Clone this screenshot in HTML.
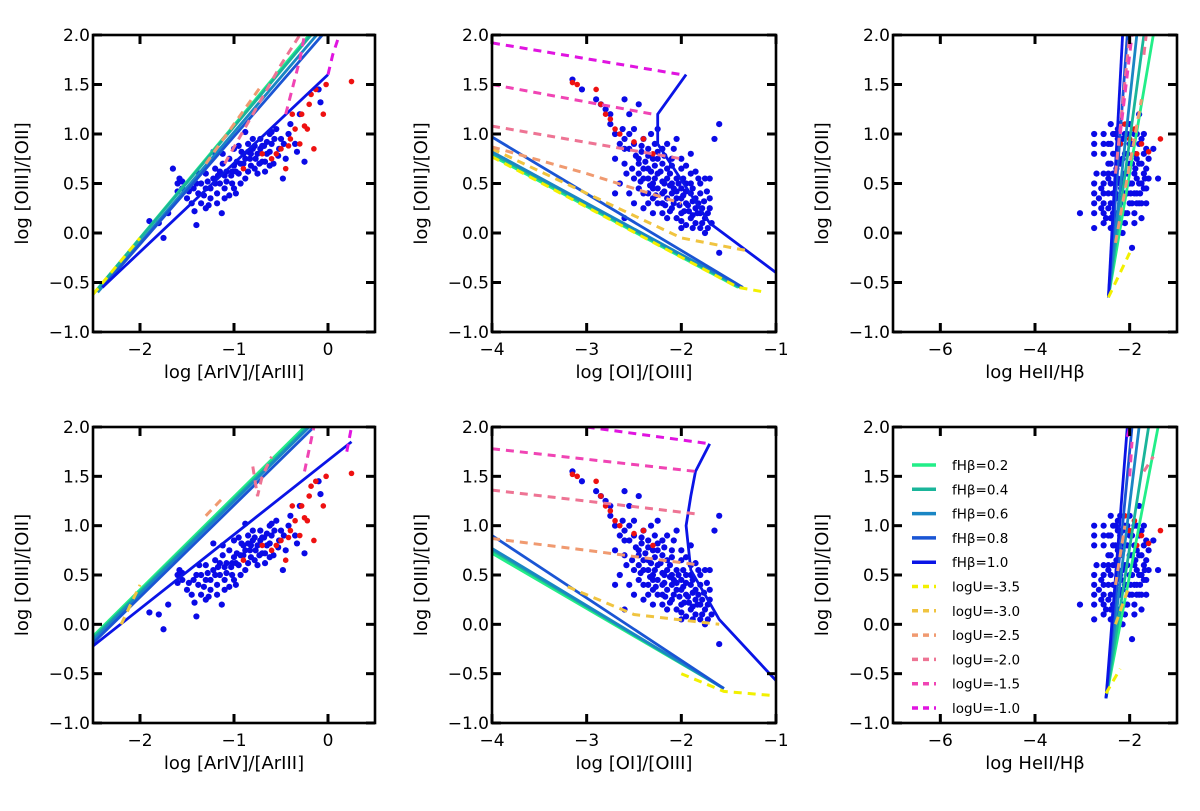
<!DOCTYPE html>
<html><head><meta charset="utf-8"><style>
html,body{margin:0;padding:0;background:#fff;}
svg{display:block;font-family:"DejaVu Sans","Liberation Sans",sans-serif;}
</style></head><body>
<svg id="fig" width="1200" height="811" viewBox="0 0 1200 811" xmlns="http://www.w3.org/2000/svg"></svg>
<script>
// ---------- data ----------
const col1Blue = [[-1.9,0.12],[-1.75,-0.05],[-1.8,0.1],[-1.7,0.2],[-1.65,0.65],[-1.6,0.5],[-1.58,0.55],[-1.55,0.45],[-1.5,0.35],[-1.45,0.3],[-1.42,0.22],[-1.4,0.08],[-1.38,0.4],[-1.35,0.5],[-1.3,0.45],[-1.3,0.6],[-1.25,0.35],[-1.22,0.55],[-1.2,0.65],[-1.18,0.4],[-1.15,0.5],[-1.12,0.7],[-1.1,0.58],[-1.1,0.45],[-1.08,0.62],[-1.05,0.75],[-1.02,0.5],[-1.0,0.68],[-0.98,0.4],[-0.95,0.6],[-0.92,0.82],[-0.9,0.7],[-0.88,0.55],[-0.85,0.9],[-0.83,0.75],[-0.8,0.85],[-0.78,0.65],[-0.75,0.8],[-0.72,0.95],[-0.7,0.72],[-0.68,0.88],[-0.65,0.8],[-0.62,1.0],[-0.6,0.9],[-0.58,0.7],[-0.55,1.05],[-0.52,0.85],[-0.5,0.95],[-0.48,0.55],[-0.45,0.75],[-0.4,1.1],[-0.35,0.9],[-0.3,1.2],[-0.25,0.72],[-0.1,1.45],[-0.08,1.32],[-1.13,0.2],[-1.22,0.82],[-1.3,0.25],[-0.95,0.88],[-0.85,0.62],[-1.05,0.38],[-0.75,0.6],[-0.88,1.02],[-1.48,0.42],[-1.35,0.3],[-0.67,0.72],[-0.8,0.95],[-1.28,0.52],[-1.17,0.58],[-0.97,0.72],[-0.9,0.8],[-0.82,0.68],[-0.72,0.85],[-0.62,0.82],[-1.4,0.5],[-1.02,0.62],
[-1.25,0.45],[-1.2,0.5],[-1.15,0.62],[-1.08,0.52],[-1.03,0.58],[-0.98,0.62],[-0.93,0.7],[-0.88,0.75],[-0.85,0.82],[-0.82,0.8],[-0.78,0.88],[-0.77,0.75],[-0.73,0.7],[-0.7,0.88],[-0.65,0.92],[-0.6,1.02],[-0.57,0.95],[-0.53,0.78],[-1.32,0.38],[-1.27,0.28],[-1.18,0.3],[-1.1,0.35],[-1.0,0.45],[-0.93,0.5],[-1.6,0.42],[-1.55,0.52],[-1.43,0.45],[-1.37,0.6],[-1.12,0.8],[-1.0,0.85],[-0.47,0.9],[-0.42,1.0],[-0.33,0.82],[-0.67,0.62],[-0.62,0.68]];
const col1Red = [[-0.9,0.65],[-0.7,0.8],[-0.6,0.75],[-0.5,0.85],[-0.45,0.65],[-0.4,0.95],[-0.35,1.05],[-0.3,0.9],[-0.28,1.2],[-0.22,1.05],[-0.2,1.3],[-0.15,0.85],[-0.13,1.45],[-0.05,1.2],[-0.02,1.5],[0.25,1.53],[-0.38,1.2],[-0.55,0.8],[-0.25,1.08],[-0.42,0.88],[-0.18,1.4]];
const col2Blue = [[-3.15,1.55],[-3.05,1.45],[-2.9,1.35],[-2.8,1.25],[-2.75,1.1],[-2.6,1.35],[-2.45,1.3],[-2.55,1.2],[-2.7,1.0],[-2.6,0.95],[-2.5,1.05],[-2.4,0.95],[-2.35,0.85],[-2.55,0.85],[-2.45,0.75],[-2.3,0.75],[-2.2,0.7],[-2.4,0.65],[-2.25,0.6],[-2.15,0.55],[-2.3,0.5],[-2.1,0.5],[-2.0,0.45],[-2.2,0.4],[-2.05,0.35],[-1.95,0.3],[-1.9,0.4],[-1.85,0.25],[-1.8,0.2],[-1.75,0.15],[-2.1,0.25],[-2.0,0.2],[-1.9,0.15],[-1.85,0.1],[-2.35,0.4],[-2.5,0.55],[-2.6,0.7],[-2.65,0.5],[-2.5,0.3],[-2.4,0.25],[-2.3,0.2],[-2.15,0.15],[-2.6,0.15],[-2.2,0.85],[-2.1,0.75],[-2.0,0.65],[-1.9,0.6],[-1.8,0.5],[-1.75,0.55],[-1.7,0.35],[-2.05,0.95],[-1.9,0.8],[-1.6,1.1],[-1.65,0.95],[-1.7,0.55],[-1.6,-0.2],[-1.75,0.0],[-1.8,0.05],[-2.0,0.05],[-2.45,0.45],[-2.55,0.4],[-2.7,0.4],[-2.2,0.3],[-2.3,0.35],[-2.15,0.65],[-2.25,0.45],[-2.35,0.55],[-2.05,0.55],[-1.95,0.5],[-2.1,0.4],[-1.98,0.38],[-1.88,0.32],[-2.12,0.6],[-2.28,0.68],[-2.42,0.82],[-2.5,0.9],[-2.62,1.05],[-2.75,1.2],[-2.85,1.3],[-2.38,0.72],[-2.32,0.62],[-2.18,0.5],[-2.08,0.45],[-1.92,0.22],[-1.82,0.3],[-2.02,0.28],[-2.25,0.3],[-2.45,0.6],[-2.0,0.12],[-1.78,0.1],[-2.18,0.78],[-2.28,0.9],
[-2.45,0.7],[-2.4,0.55],[-2.35,0.65],[-2.3,0.45],[-2.28,0.55],[-2.25,0.75],[-2.22,0.62],[-2.2,0.52],[-2.18,0.42],[-2.15,0.35],[-2.12,0.48],[-2.1,0.68],[-2.08,0.3],[-2.05,0.42],[-2.03,0.5],[-2.0,0.35],[-1.98,0.55],[-1.95,0.42],[-1.93,0.28],[-1.9,0.5],[-1.88,0.45],[-1.85,0.35],[-1.83,0.2],[-1.8,0.4],[-1.78,0.25],[-1.76,0.32],[-1.72,0.2],[-1.7,0.25],[-2.2,0.2],[-2.12,0.22],[-2.05,0.15],[-1.95,0.08],[-1.88,0.05],[-2.35,0.3],[-2.4,0.4],[-2.52,0.65],[-2.48,0.78],[-2.42,0.88],[-2.35,0.78],[-2.25,0.82],[-2.15,0.9],[-2.08,0.85],[-2.0,0.75],[-1.95,0.68],[-1.85,0.62],[-1.82,0.55],[-2.6,0.85],[-2.55,1.0],[-2.65,0.9],[-2.7,0.75],[-2.58,0.6],[-2.32,1.0],[-2.25,1.05],[-1.88,0.18],[-1.97,0.22],[-2.27,0.38],[-2.17,0.28],[-2.33,0.48],[-2.43,0.52],[-1.73,0.42],[-1.68,0.1],[-1.72,0.05]];
const col2Red = [[-3.15,1.52],[-3.1,1.5],[-2.9,1.45],[-2.85,1.3],[-2.8,1.2],[-2.75,1.15],[-2.7,1.05],[-2.65,1.0],[-2.4,0.95],[-2.5,0.92],[-2.3,0.8]];
const col3Blue = [[-3.05,0.2],[-2.75,1.0],[-2.75,0.9],[-2.75,0.8],[-2.75,0.5],[-2.75,0.4],[-2.75,0.3],[-2.75,0.2],[-2.75,0.05],[-2.55,1.0],[-2.55,0.9],[-2.55,0.8],[-2.55,0.6],[-2.55,0.5],[-2.55,0.4],[-2.55,0.3],[-2.55,0.2],[-2.55,0.1],[-2.4,1.1],[-2.4,0.9],[-2.4,0.7],[-2.4,0.5],[-2.4,0.3],[-2.4,0.15],[-2.35,-0.15],[-2.3,1.0],[-2.3,0.8],[-2.3,0.6],[-2.3,0.4],[-2.3,0.2],[-2.2,1.1],[-2.2,0.9],[-2.2,0.7],[-2.2,0.5],[-2.2,0.3],[-2.2,0.1],[-2.1,1.0],[-2.1,0.8],[-2.1,0.6],[-2.1,0.4],[-2.1,0.2],[-2.0,1.1],[-2.0,0.9],[-2.0,0.7],[-2.0,0.5],[-2.0,0.3],[-1.9,1.0],[-1.9,0.8],[-1.9,0.6],[-1.9,0.4],[-1.9,0.2],[-1.8,1.2],[-1.8,0.9],[-1.8,0.7],[-1.8,0.5],[-1.8,0.3],[-1.7,1.0],[-1.7,0.8],[-1.7,0.6],[-1.7,0.45],[-1.6,0.75],[-1.6,0.55],[-1.5,0.85],[-1.4,0.55],[-1.95,-0.15],[-2.15,0.0],[-1.75,0.15],[-1.65,0.3],[-2.45,0.6],[-2.25,0.95],[-2.05,0.6],[-1.85,0.4],
[-2.45,0.9],[-2.45,0.7],[-2.45,0.4],[-2.45,0.25],[-2.35,1.0],[-2.35,0.8],[-2.35,0.6],[-2.35,0.4],[-2.35,0.2],[-2.25,1.05],[-2.25,0.75],[-2.25,0.55],[-2.25,0.35],[-2.25,0.15],[-2.15,0.95],[-2.15,0.75],[-2.15,0.55],[-2.15,0.35],[-2.15,0.2],[-2.05,1.0],[-2.05,0.8],[-2.05,0.4],[-2.05,0.2],[-1.95,0.9],[-1.95,0.7],[-1.95,0.5],[-1.95,0.3],[-1.85,1.0],[-1.85,0.75],[-1.85,0.55],[-1.85,0.3],[-1.75,0.95],[-1.75,0.7],[-1.75,0.5],[-1.75,0.3],[-1.65,0.85],[-1.65,0.65],[-1.65,0.45],[-2.45,0.55],[-2.4,0.05],[-2.3,0.1],[-2.1,0.1],[-1.9,0.1],[-2.5,0.15],[-2.6,0.45],[-2.6,0.25],[-2.65,0.35],[-2.7,0.6],[-2.28,0.65],[-2.18,0.45],[-1.98,0.4],[-1.88,0.65],[-1.78,0.4],[-1.68,0.55]];
const col3Red = [[-2.2,0.9],[-2.0,0.95],[-1.85,0.8],[-1.75,0.9],[-1.6,0.82],[-1.35,0.95],[-1.9,1.05],[-2.1,1.1]];
const legendLabels = ["fHβ=0.2","fHβ=0.4","fHβ=0.6","fHβ=0.8","fHβ=1.0","logU=-3.5","logU=-3.0","logU=-2.5","logU=-2.0","logU=-1.5","logU=-1.0"];
// model grid lines: [panel, colorKey, dashed, points]
const modelLines = [
 [0,"f2",0,[[-2.5,-0.62],[-0.2,2.0]]],[0,"f4",0,[[-2.5,-0.62],[-0.18,2.0]]],[0,"f6",0,[[-2.45,-0.6],[-0.12,2.0]]],[0,"f8",0,[[-2.4,-0.55],[-0.06,2.0]]],[0,"f10",0,[[-2.4,-0.55],[0.0,1.6]]],
 [0,"u35",1,[[-2.5,-0.62],[-2.0,-0.05]]],[0,"u25",1,[[-1.3,0.7],[-0.7,1.5]]],[0,"u20",1,[[-1.1,0.7],[-0.5,1.7],[-0.3,2.0]]],[0,"u15",1,[[-0.45,1.2],[-0.3,1.75],[-0.25,2.0]]],[0,"u10",1,[[0.0,1.6],[0.05,1.8],[0.12,2.0]]],
 [1,"f2",0,[[-4,0.78],[-1.4,-0.55]]],[1,"f4",0,[[-4,0.8],[-1.38,-0.55]]],[1,"f6",0,[[-4,0.82],[-1.36,-0.55]]],[1,"f8",0,[[-4,0.97],[-1.35,-0.55]]],[1,"f10",0,[[-1.0,-0.4],[-1.7,0.1],[-2.25,0.9],[-2.25,1.2],[-1.95,1.6]]],
 [1,"u35",1,[[-4,0.77],[-1.4,-0.55],[-1.1,-0.6]]],[1,"u30",1,[[-4,0.85],[-2.0,-0.05],[-1.3,-0.18]]],[1,"u25",1,[[-4,0.87],[-3.0,0.6],[-2.0,0.3]]],[1,"u20",1,[[-4,1.08],[-2.0,0.75]]],[1,"u15",1,[[-4,1.5],[-2.3,1.2]]],[1,"u10",1,[[-4,1.92],[-2.0,1.6]]],
 [2,"f2",0,[[-2.45,-0.65],[-1.5,2.0]]],[2,"f4",0,[[-2.45,-0.65],[-1.7,2.0]]],[2,"f6",0,[[-2.45,-0.65],[-1.85,2.0]]],[2,"f8",0,[[-2.45,-0.65],[-2.05,2.0]]],[2,"f10",0,[[-2.45,-0.65],[-2.15,2.0]]],
 [2,"u35",1,[[-2.45,-0.65],[-2.0,-0.2]]],[2,"u25",1,[[-2.3,-0.1],[-1.75,1.35]]],[2,"u20",1,[[-2.3,0.6],[-2.0,2.0]]],[2,"u15",1,[[-2.2,1.0],[-1.95,2.0]]],[2,"u20",1,[[-1.7,1.8],[-1.65,2.0]]],
 [3,"f2",0,[[-2.5,-0.12],[-0.25,2.0]]],[3,"f4",0,[[-2.5,-0.14],[-0.22,2.0]]],[3,"f6",0,[[-2.5,-0.16],[-0.2,2.0]]],[3,"f8",0,[[-2.5,-0.19],[-0.15,2.0]]],[3,"f10",0,[[-2.5,-0.22],[0.25,1.85]]],
 [3,"u30",1,[[-2.2,0.0],[-2.0,0.4]]],[3,"u25",1,[[-1.3,1.1],[-1.1,1.3]]],[3,"u20",1,[[-0.8,1.6],[-0.75,1.3],[-0.7,1.5],[-0.6,1.7]]],[3,"u15",1,[[-0.25,1.55],[-0.15,2.0]]],[3,"u10",1,[[0.2,1.75],[0.25,2.0]]],
 [4,"f2",0,[[-4,0.72],[-1.55,-0.65]]],[4,"f4",0,[[-4,0.75],[-1.55,-0.65]]],[4,"f6",0,[[-4,0.77],[-1.55,-0.65]]],[4,"f8",0,[[-4,0.9],[-1.55,-0.65]]],[4,"f10",0,[[-1.0,-0.57],[-1.6,0.05],[-1.9,0.55],[-1.95,1.0],[-1.9,1.3],[-1.85,1.55],[-1.7,1.83]]],
 [4,"u35",1,[[-2.0,-0.5],[-1.55,-0.68],[-1.05,-0.72]]],[4,"u30",1,[[-3.2,0.38],[-2.5,0.1],[-1.6,0.0]]],[4,"u25",1,[[-4,0.87],[-3.0,0.75],[-1.8,0.6]]],[4,"u20",1,[[-4,1.36],[-1.85,1.12]]],[4,"u15",1,[[-4,1.78],[-1.85,1.55]]],[4,"u10",1,[[-3.0,2.0],[-1.7,1.83]]],
 [5,"f2",0,[[-2.5,-0.75],[-1.4,2.0]]],[5,"f4",0,[[-2.5,-0.75],[-1.6,2.0]]],[5,"f6",0,[[-2.5,-0.75],[-1.8,2.0]]],[5,"f8",0,[[-2.5,-0.75],[-1.95,2.0]]],[5,"f10",0,[[-2.5,-0.75],[-2.05,2.0]]],
 [5,"u35",1,[[-2.5,-0.7],[-2.2,-0.45]]],[5,"u30",1,[[-2.3,0.0],[-2.0,0.4]]],[5,"u25",1,[[-2.3,0.4],[-2.1,1.0]]],[5,"u20",1,[[-1.7,1.55],[-1.5,1.7]]],[5,"u15",1,[[-2.0,1.5],[-1.95,1.85]]],[5,"u10",1,[[-2.05,1.9],[-2.0,2.0]]]
];
const xTicks = [[-2,-1,0],[-4,-3,-2,-1],[-6,-4,-2]];
const yTicks = [-1.0,-0.5,0.0,0.5,1.0,1.5,2.0];
const xLabels = ["log [ArIV]/[ArIII]","log [OI]/[OIII]","log HeII/Hβ"];

const colors = {f2:"#22ee88",f4:"#1ab59a",f6:"#1a86c4",f8:"#1a55d4",f10:"#0a14e6",u35:"#f2f000",u30:"#f0c440",u25:"#f09a70",u20:"#ee7494",u15:"#f044b4",u10:"#e014e0"};
const legendKeys = ["f2","f4","f6","f8","f10","u35","u30","u25","u20","u15","u10"];

const NS="http://www.w3.org/2000/svg";
const svg=document.getElementById('fig');
function mk(tag,attrs,parent){const e=document.createElementNS(NS,tag);for(const k in attrs)e.setAttribute(k,attrs[k]);(parent||svg).appendChild(e);return e;}

const colX=[[93,375],[492,776],[893,1177]];
const rowY=[[35,332],[427,723]];
const xDom=[[-2.5,0.5],[-4,-1],[-7,-1]];
const yDom=[-1,2];

for(let p=0;p<6;p++){
  const c=p%3, r=Math.floor(p/3);
  const [x0,x1]=colX[c],[yt,yb]=rowY[r];
  const sx=v=>x0+(v-xDom[c][0])/(xDom[c][1]-xDom[c][0])*(x1-x0);
  const sy=v=>yb-(v-yDom[0])/(yDom[1]-yDom[0])*(yb-yt);
  const g=mk('g',{});
  
  
  const cid='clip'+p;
  const cp=mk('clipPath',{id:cid},g); mk('rect',{x:x0,y:yt,width:x1-x0,height:yb-yt},cp);
  const plot=mk('g',{'clip-path':'url(#'+cid+')'},g);
  
  
  const blue=[col1Blue,col2Blue,col3Blue][c], red=[col1Red,col2Red,col3Red][c];
  for(const pt of blue){const e=mk('circle',{cx:sx(pt[0]),cy:sy(pt[1]),r:3.1,fill:'#0a0ae6'},plot);
    
    }
  for(const pt of red){const e=mk('circle',{cx:sx(pt[0]),cy:sy(pt[1]),r:2.8,fill:'#ee1111'},plot);
    
    }
  for(const ln of modelLines){ if(ln[0]!==p) continue;
    const d=ln[3].map((q,i)=>(i?'L':'M')+sx(q[0]).toFixed(1)+','+sy(q[1]).toFixed(1)).join('');
    const e=mk('path',{d:d,fill:'none',stroke:colors[ln[1]],'stroke-width':ln[2]?3:2.8,'stroke-dasharray':ln[2]?'8,6':'none'},plot);
    
    }
  const fr=mk('rect',{x:x0,y:yt,width:x1-x0,height:yb-yt,fill:'none',stroke:'#000','stroke-width':2.6},g);
  
  
  for(const t of xTicks[c]){const X=sx(t);
    mk('line',{x1:X,y1:yb,x2:X,y2:yb-9,stroke:'#000','stroke-width':3},g);
    mk('line',{x1:X,y1:yt,x2:X,y2:yt+9,stroke:'#000','stroke-width':3},g);
    const tx=mk('text',{x:X,y:yb+23,'font-size':17,'text-anchor':'middle'},g);tx.textContent=(t<0?'−':'')+Math.abs(t);
    
    }
  for(const t of yTicks){const Y=sy(t);
    mk('line',{x1:x0,y1:Y,x2:x0+9,y2:Y,stroke:'#000','stroke-width':3},g);
    mk('line',{x1:x1,y1:Y,x2:x1-9,y2:Y,stroke:'#000','stroke-width':3},g);
    const tx=mk('text',{x:x0-3,y:Y+6,'font-size':17,'text-anchor':'end'},g);tx.textContent=(t<0?'−':'')+Math.abs(t).toFixed(1);
    
    }
  const xl=mk('text',{x:(x0+x1)/2,y:yb+46,'font-size':18,'text-anchor':'middle'},g);xl.textContent=xLabels[c];
  
  
  const yl=mk('text',{x:0,y:0,'font-size':18,'text-anchor':'middle',transform:'translate('+(x0-65)+','+((yt+yb)/2)+') rotate(-90)'},g);yl.textContent='log [OIII]/[OII]';
  
  
  if(p===5){
    const lg=mk('g',{},g);
    
    
    legendKeys.forEach((k,i)=>{const Y=465+i*24.3;
      const e=mk('line',{x1:912,y1:Y,x2:936,y2:Y,stroke:colors[k],'stroke-width':3.5,'stroke-dasharray':i>=5?'6,5':'none'},lg);
      
      
      const t=mk('text',{x:952,y:Y+5,'font-size':13.5},lg);t.textContent=legendLabels[i];
      
      });
  }
}
</script>
</body></html>
